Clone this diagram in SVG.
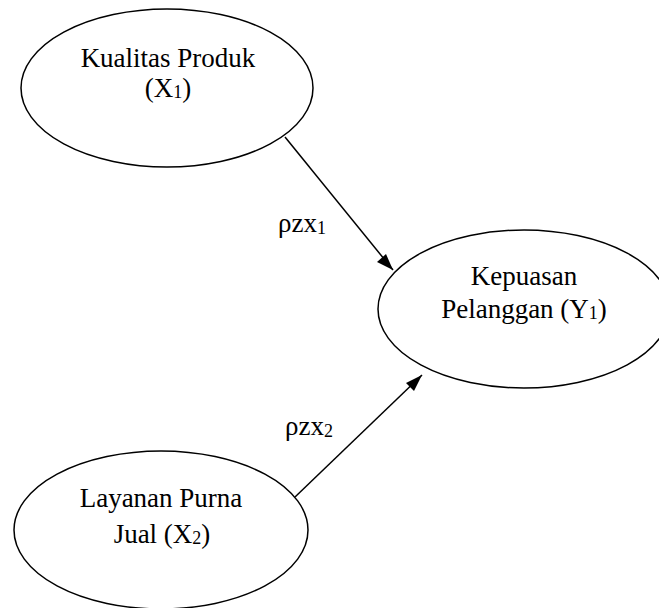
<svg xmlns="http://www.w3.org/2000/svg" width="659" height="608" viewBox="0 0 659 608">
<style>
.node ellipse{fill:#fff;stroke:#000;stroke-width:1.5}
text{font-family:"Liberation Serif","Times New Roman",serif;font-size:27px;fill:#000;text-anchor:middle}
.lbl{text-anchor:start}
.sub{font-size:18px}
.edge{stroke:#000;stroke-width:1.5;fill:none;marker-end:url(#arr)}
</style>
<defs>
<marker id="arr" viewBox="0 0 10 10" refX="10" refY="5" markerWidth="11" markerHeight="11" markerUnits="userSpaceOnUse" orient="auto">
<path d="M0,0 L10,5 L0,10 z" fill="#000"/>
</marker>
</defs>
<g id="connectors">
<line class="edge" x1="285" y1="137" x2="393" y2="270" style="marker-end:none"/>
<path d="M393,270 L377,262 L386,254 z" fill="#000"/>
<line class="edge" x1="295" y1="497" x2="422" y2="375" style="marker-end:none"/>
<path d="M422,375 L414,391 L406,383 z" fill="#000"/>
<text class="lbl" x="278" y="232">ρzx<tspan class="sub" dy="2">1</tspan></text>
<text class="lbl" x="285" y="435">ρzx<tspan class="sub" dy="2">2</tspan></text>
</g>
<g id="n1" class="node">
<ellipse cx="167" cy="88" rx="146" ry="79"/>
<text x="168" y="67">Kualitas Produk</text>
<text x="168" y="97">(X<tspan class="sub" dy="1">1</tspan><tspan dy="-1">)</tspan></text>
</g>
<g id="n2" class="node">
<ellipse cx="524" cy="309" rx="146" ry="79"/>
<text x="524" y="285">Kepuasan</text>
<text x="524" y="318">Pelanggan (Y<tspan class="sub" dy="1">1</tspan><tspan dy="-1">)</tspan></text>
</g>
<g id="n3" class="node">
<ellipse cx="161" cy="530" rx="147" ry="79"/>
<text x="161" y="507">Layanan Purna</text>
<text x="162" y="543">Jual (X<tspan class="sub" dy="1">2</tspan><tspan dy="-1">)</tspan></text>
</g>
</svg>
